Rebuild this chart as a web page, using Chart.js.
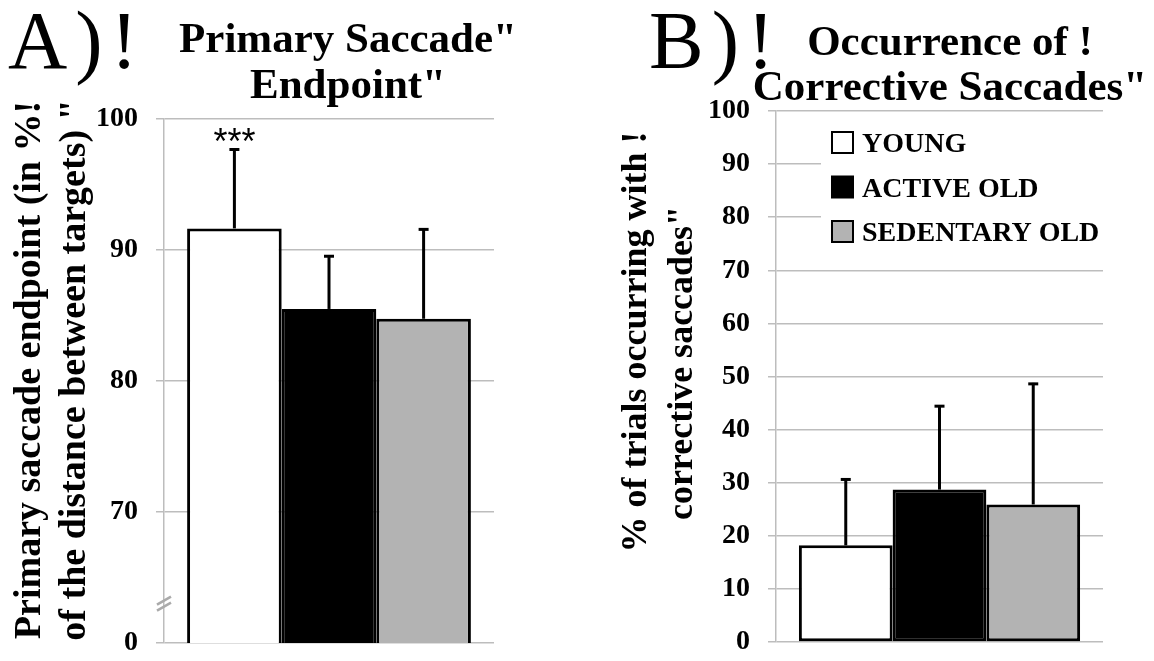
<!DOCTYPE html>
<html>
<head>
<meta charset="utf-8">
<script src="https://cdn.jsdelivr.net/npm/chart.js@4.4.1/dist/chart.umd.min.js"></script>
<style>
  html, body { margin: 0; padding: 0; background: #fff; }
  .panel { position: absolute; top: 0; width: 577px; height: 661px; }
  #panelA { left: 0; }
  #panelB { left: 577px; }
</style>
</head>
<body>
<div class="panel" id="panelA"><canvas id="chartA" width="577" height="661"></canvas></div>
<div class="panel" id="panelB"><canvas id="chartB" width="577" height="661"></canvas></div>
<script>
const GROUPS = ['YOUNG', 'ACTIVE OLD', 'SEDENTARY OLD'];
const GROUP_COLORS = ['#ffffff', '#000000', '#b3b3b3'];

// A) primary saccade endpoint, % of the distance between targets
const endpointMean = [91.65, 85.5, 84.75];
const endpointErr = [6.1, 4.1, 6.9];      // upper error bar only
const endpointZeroAt = 60;                // broken axis: 60 is printed as "0"

// B) occurrence of corrective saccades, % of trials
const correctiveMean = [18.2, 28.7, 25.9];
const correctiveErr = [12.6, 15.9, 22.9];

const SERIF = '"Liberation Serif", "Times New Roman", serif';
const GRID = '#bdbdbd';

function makeDatasets(means, errs) {
  return GROUPS.map((g, i) => ({
    label: g,
    data: [means[i]],
    err: [errs[i]],
    backgroundColor: GROUP_COLORS[i],
    borderColor: '#000',
    borderWidth: 3,
    borderSkipped: false,
    barPercentage: 1,
    categoryPercentage: 0.86
  }));
}

// upper error bars, drawn through the y scale
const errorBars = {
  id: 'errorBars',
  afterDatasetsDraw(chart) {
    const ctx = chart.ctx;
    const y = chart.scales.y;
    ctx.save();
    ctx.strokeStyle = '#000';
    ctx.lineWidth = 3;
    chart.data.datasets.forEach((ds, i) => {
      const meta = chart.getDatasetMeta(i);
      meta.data.forEach((bar, j) => {
        const top = y.getPixelForValue(ds.data[j] + ds.err[j]);
        ctx.beginPath();
        ctx.moveTo(bar.x, bar.y);
        ctx.lineTo(bar.x, top);
        ctx.stroke();
        ctx.beginPath();
        ctx.moveTo(bar.x - 5, top + 1);
        ctx.lineTo(bar.x + 5, top + 1);
        ctx.stroke();
      });
    });
    ctx.restore();
  }
};

function rotText(ctx, txt, x, y) {
  ctx.save();
  ctx.translate(x, y);
  ctx.rotate(-Math.PI / 2);
  ctx.textAlign = 'center';
  ctx.textBaseline = 'middle';
  ctx.fillText(txt, 0, 0);
  ctx.restore();
}

function baseOptions(axisWidth, pad, yMin, yMax, tickCb) {
  return {
    responsive: false,
    animation: false,
    layout: { padding: pad },
    plugins: { legend: { display: false }, tooltip: { enabled: false } },
    scales: {
      x: { display: false },
      y: {
        min: yMin,
        max: yMax,
        ticks: {
          stepSize: 10,
          color: '#000',
          padding: 18,
          font: { family: SERIF, size: 28, weight: 'bold' },
          callback: tickCb
        },
        grid: { color: GRID, lineWidth: 1.5, tickLength: 8 },
        border: { color: GRID, width: 1.5 },
        afterFit: s => {
          s.width = axisWidth;
          s.paddingTop = 0;
          s.paddingBottom = 0;
        }
      }
    }
  };
}

// ---- Panel A ----
const panelAText = {
  id: 'panelAText',
  afterDraw(chart) {
    const ctx = chart.ctx;
    const y = chart.scales.y;
    const x0 = chart.chartArea.left;
    ctx.save();
    ctx.fillStyle = '#000';
    ctx.font = '82px ' + SERIF;
    ctx.letterSpacing = '8px';
    ctx.textAlign = 'left';
    ctx.textBaseline = 'alphabetic';
    ctx.fillText('A)!', 8, 68);
    ctx.letterSpacing = '0px';

    ctx.textAlign = 'center';
    ctx.font = 'bold 43px ' + SERIF;
    ctx.fillText('Primary Saccade"', 348, 52);
    ctx.fillText('Endpoint"', 348, 98);

    ctx.font = 'bold 38px ' + SERIF;
    rotText(ctx, 'Primary saccade endpoint (in %!', 30, 370);
    rotText(ctx, 'of the distance between targets) "', 75, 370);

    // significance stars over the young bar
    const bar = chart.getDatasetMeta(0).data[0];
    const ds = chart.data.datasets[0];
    const top = y.getPixelForValue(ds.data[0] + ds.err[0]);
    ctx.font = '36px "Liberation Sans", Arial, sans-serif';
    ctx.fillText('***', bar.x, top + 6);

    // axis break mark
    const by = y.getPixelForValue(63);
    ctx.strokeStyle = '#aaaaaa';
    ctx.lineWidth = 2.5;
    [-3, 3].forEach(o => {
      ctx.beginPath();
      ctx.moveTo(x0 - 7, by + 4 + o);
      ctx.lineTo(x0 + 7, by - 4 + o);
      ctx.stroke();
    });
    ctx.restore();
  }
};

new Chart(document.getElementById('chartA'), {
  type: 'bar',
  data: { labels: [''], datasets: makeDatasets(endpointMean, endpointErr) },
  options: baseOptions(164, { top: 119, bottom: 18, right: 83, left: 0 },
    endpointZeroAt, 100, v => (v === endpointZeroAt ? '0' : v)),
  plugins: [errorBars, panelAText]
});

// ---- Panel B ----
const panelBText = {
  id: 'panelBText',
  afterDraw(chart) {
    const ctx = chart.ctx;
    ctx.save();
    ctx.fillStyle = '#000';
    ctx.font = '82px ' + SERIF;
    ctx.letterSpacing = '8px';
    ctx.textAlign = 'left';
    ctx.fillText('B)!', 72, 68);
    ctx.letterSpacing = '0px';

    ctx.textAlign = 'center';
    ctx.font = 'bold 43px ' + SERIF;
    ctx.fillText('Occurrence of !', 373, 55);
    ctx.fillText('Corrective Saccades"', 373, 100);

    ctx.font = 'bold 36px ' + SERIF;
    rotText(ctx, '% of trials occurring with !', 60, 342);
    rotText(ctx, 'corrective saccades"', 106, 363);

    // legend
    ctx.fillStyle = '#fff';
    ctx.fillRect(244, 122, 300, 130);
    ctx.font = 'bold 28px ' + SERIF;
    ctx.textAlign = 'left';
    ctx.lineWidth = 2;
    chart.data.datasets.forEach((ds, i) => {
      const cy = 142 + i * 44.5;
      ctx.fillStyle = ds.backgroundColor;
      ctx.fillRect(255, cy - 10, 21, 21);
      ctx.strokeStyle = '#000';
      ctx.strokeRect(255, cy - 10, 21, 21);
      ctx.fillStyle = '#000';
      ctx.fillText(ds.label, 285, cy + 10);
    });
    ctx.restore();
  }
};

new Chart(document.getElementById('chartB'), {
  type: 'bar',
  data: { labels: [''], datasets: makeDatasets(correctiveMean, correctiveErr) },
  options: baseOptions(199, { top: 111, bottom: 19, right: 51, left: 0 },
    0, 100, v => v),
  plugins: [errorBars, panelBText]
});
</script>
</body>
</html>
